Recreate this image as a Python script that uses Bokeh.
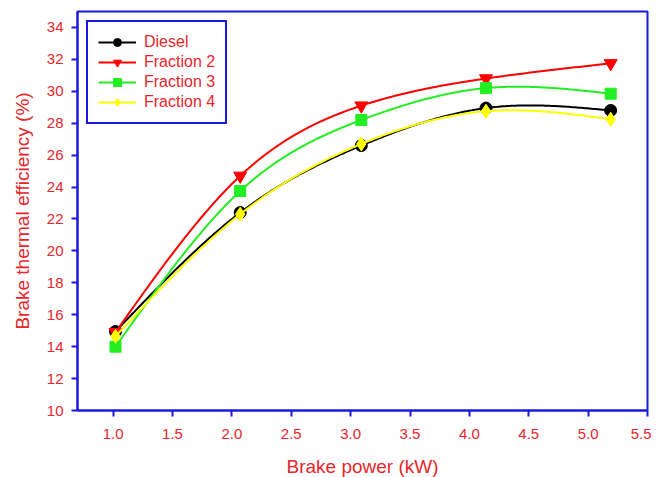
import numpy as np
from bokeh.plotting import figure
from bokeh.models import Range1d, FixedTicker, Legend, LegendItem, NumeralTickFormatter
from bokeh.embed import file_html
from bokeh.resources import INLINE

# Data
power = [1.02, 2.07, 3.09, 4.14, 5.19]
diesel = [14.95, 22.4, 26.6, 28.95, 28.8]
fraction2 = [14.9, 24.7, 29.1, 30.8, 31.75]
fraction3 = [14.0, 23.75, 28.2, 30.2, 29.85]
fraction4 = [14.65, 22.3, 26.7, 28.75, 28.25]
series_names = ["Diesel", "Fraction 2", "Fraction 3", "Fraction 4"]
x_ticks = [1.0, 1.5, 2.0, 2.5, 3.0, 3.5, 4.0, 4.5, 5.0, 5.5]
y_ticks = list(range(10, 36, 2))


def natural_spline(x, y, n=60):
    x = np.asarray(x, float)
    y = np.asarray(y, float)
    k = len(x)
    h = np.diff(x)
    A = np.zeros((k, k))
    b = np.zeros(k)
    A[0, 0] = 1
    A[-1, -1] = 1
    for i in range(1, k - 1):
        A[i, i - 1] = h[i - 1]
        A[i, i] = 2 * (h[i - 1] + h[i])
        A[i, i + 1] = h[i]
        b[i] = 6 * ((y[i + 1] - y[i]) / h[i] - (y[i] - y[i - 1]) / h[i - 1])
    M = np.linalg.solve(A, b)
    xs, ys = [], []
    for i in range(k - 1):
        t = np.linspace(x[i], x[i + 1], n)
        a = x[i + 1] - t
        c = t - x[i]
        s = (M[i] * a ** 3 + M[i + 1] * c ** 3) / (6 * h[i]) \
            + (y[i] / h[i] - M[i] * h[i] / 6) * a \
            + (y[i + 1] / h[i] - M[i + 1] * h[i] / 6) * c
        xs.extend(t.tolist())
        ys.extend(s.tolist())
    return xs, ys


RED = "#e8262c"
BLUE = "#1a1adf"
FONT = "Liberation Sans"

p = figure(frame_width=570, frame_height=399, output_backend="svg", toolbar_location=None,
           x_range=Range1d(0.7, 5.5), y_range=Range1d(10, 35),
           min_border_left=77, min_border_right=4, min_border_top=11, min_border_bottom=59)
p.xgrid.visible = False
p.ygrid.visible = False
p.outline_line_color = BLUE
p.outline_line_width = 2
p.outline_line_alpha = 1

for ax in (p.xaxis, p.yaxis):
    ax.axis_line_color = BLUE
    ax.axis_line_width = 2
    ax.major_tick_line_color = BLUE
    ax.major_tick_line_width = 2
    ax.major_tick_out = 6
    ax.major_tick_in = 0
    ax.minor_tick_line_color = None
    ax.major_label_text_color = RED
    ax.major_label_text_font = FONT
    ax.major_label_text_font_size = "15px"
    ax.axis_label_text_color = RED
    ax.axis_label_text_font = FONT
    ax.axis_label_text_font_size = "19px"
    ax.axis_label_text_font_style = "normal"

p.xaxis.ticker = FixedTicker(ticks=x_ticks)
p.yaxis.ticker = FixedTicker(ticks=y_ticks)
p.xaxis.formatter = NumeralTickFormatter(format="0.0")
p.xaxis.axis_label = "Brake power (kW)"
p.yaxis.axis_label = "Brake thermal efficiency (%)"
p.xaxis.major_label_standoff = 12
p.xaxis.axis_label_standoff = 14
p.yaxis.major_label_standoff = 8
p.yaxis.axis_label_standoff = 11

data = [diesel, fraction2, fraction3, fraction4]
colors = ["black", "#ff0000", "#22ee22", "#ffff00"]
markers = ["circle", "inverted_triangle", "square", "diamond"]
sizes = [12, 13, 11, 14]

items = []
for name, ys, col, mk, sz in zip(series_names, data, colors, markers, sizes):
    sx, sy = natural_spline(power, ys)
    ln = p.line(sx, sy, line_color=col, line_width=2)
    sc = p.scatter(power, ys, marker=mk, size=sz, fill_color=col, line_color=col)
    items.append(LegendItem(label=name, renderers=[ln, sc]))

legend = Legend(items=items, location="top_left", margin=9,
                border_line_color=BLUE, border_line_width=2, border_line_alpha=1,
                label_text_color=RED, label_text_font=FONT, label_text_font_size="16px",
                glyph_width=38, glyph_height=20, label_height=20, label_standoff=8,
                spacing=0, padding=10, background_fill_alpha=1)
p.add_layout(legend, "center")

open("out.html", "w").write(file_html(p, INLINE))
